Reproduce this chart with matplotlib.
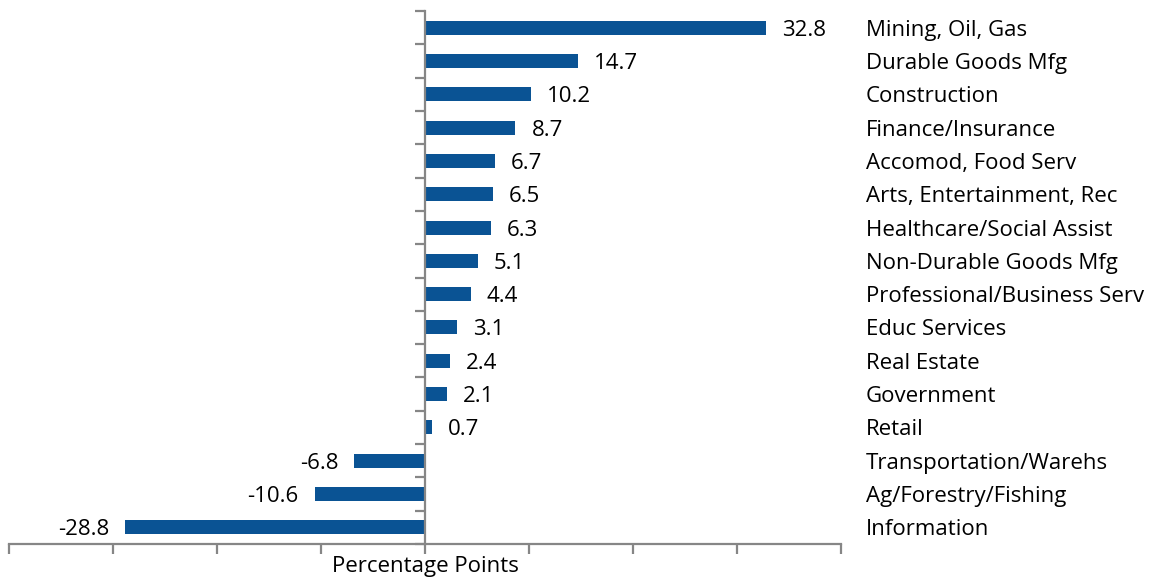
import matplotlib
matplotlib.use('Agg')
import matplotlib.pyplot as plt
import matplotlib.transforms as mtransforms
import numpy as np

# ---------------------------------------------------------------------------
CATEGORIES = ['Mining, Oil, Gas', 'Durable Goods Mfg', 'Construction',
              'Finance/Insurance', 'Accomod, Food Serv', 'Arts, Entertainment, Rec',
              'Healthcare/Social Assist', 'Non-Durable Goods Mfg',
              'Professional/Business Serv', 'Educ Services', 'Real Estate',
              'Government', 'Retail', 'Transportation/Warehs',
              'Ag/Forestry/Fishing', 'Information']
VALUES = [32.8, 14.7, 10.2, 8.7, 6.7, 6.5, 6.3, 5.1, 4.4, 3.1, 2.4, 2.1, 0.7,
          -6.8, -10.6, -28.8]
X_TICKS = [-40, -30, -20, -10, 0, 10, 20, 30, 40]
X_LABEL = 'Percentage Points'

BAR_COLOR  = '#0A5394'
AXIS_COLOR = '#868686'
FONT       = 'Open Sans'
FS         = 16

W, H = 1159, 577


# ---------------------------------------------------------------------------
def main():
    plt.rcParams['font.family'] = [FONT, 'DejaVu Sans']
    fig = plt.figure(figsize=(W / 100, H / 100), dpi=100)
    ax = fig.add_axes([9 / W, 1 - 544 / H, (841 - 9) / W, (544 - 11) / H])

    y = np.arange(len(CATEGORIES))
    ax.barh(y, VALUES, height=0.42, color=BAR_COLOR, zorder=2)

    ax.set_xlim(X_TICKS[0], X_TICKS[-1])
    ax.set_ylim(len(CATEGORIES) - 0.5, -0.5)

    # spines: only left at zero and bottom
    for s in ['top', 'right']:
        ax.spines[s].set_visible(False)
    ax.spines['left'].set_position(('data', 0))
    for s in ['left', 'bottom']:
        ax.spines[s].set_color(AXIS_COLOR)
        ax.spines[s].set_linewidth(1.6)

    ax.set_xticks(X_TICKS)
    ax.set_xticklabels([])
    ax.tick_params(axis='x', direction='out', length=7, width=1.6, color=AXIS_COLOR)
    ax.set_yticks(np.arange(len(CATEGORIES) + 1) - 0.5)
    ax.set_yticklabels([])
    ax.tick_params(axis='y', direction='out', length=7, width=1.6, color=AXIS_COLOR)

    # value labels
    for yi, v in zip(y, VALUES):
        if v >= 0:
            ax.annotate(f'{v:.1f}', (v, yi), xytext=(11.5, 0), textcoords='offset points',
                        ha='left', va='center_baseline', fontsize=FS)
        else:
            ax.annotate(f'{v:.1f}', (v, yi), xytext=(-11.5, 0), textcoords='offset points',
                        ha='right', va='center_baseline', fontsize=FS)

    # category labels on the right
    trans = mtransforms.blended_transform_factory(ax.transAxes, ax.transData)
    for yi, name in zip(y, CATEGORIES):
        ax.text((866 - 9) / (841 - 9), yi, name, transform=trans,
                ha='left', va='center_baseline', fontsize=FS)

    fig.text(425 / W, 1 - 556 / H, X_LABEL, ha='center', va='top', fontsize=FS)

    fig.savefig('out.png', dpi=100)


if __name__ == '__main__':
    main()
